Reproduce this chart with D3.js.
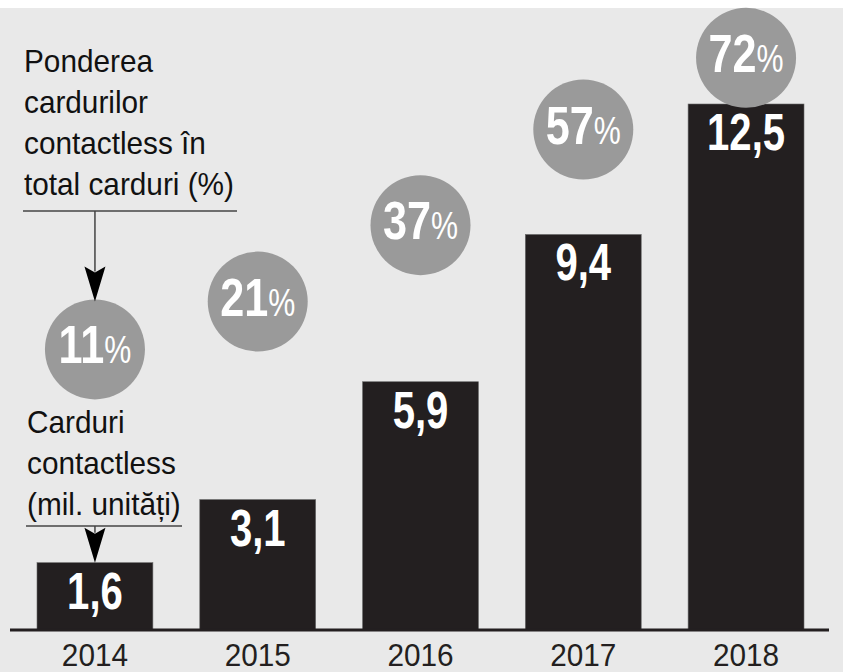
<!DOCTYPE html>
<html>
<head>
<meta charset="utf-8">
<script src="https://cdn.jsdelivr.net/npm/d3@7"></script>
<style>
  body { margin: 0; background: #fff; }
  svg { display: block; }
  text { font-family: "Liberation Sans", Arial, sans-serif; }
</style>
</head>
<body>
<div id="chart"></div>
<script>
// data
const years = ["2014", "2015", "2016", "2017", "2018"];
const cards = [1.6, 3.1, 5.9, 9.4, 12.5];          // mil. unitati
const shares = [11, 21, 37, 57, 72];               // % contactless in total
const barLabels = ["1,6", "3,1", "5,9", "9,4", "12,5"];

const width = 843, height = 672;
const baseY = 630;
const ink = "#231f20";
// no condensed font installed, so squeeze the glyphs horizontally
const sqReg = 0.93, sqBold = 0.77;

const svg = d3.select("#chart")
    .append("svg")
    .attr("width", width)
    .attr("height", height);

// background panel
svg.append("rect")
    .attr("x", 0).attr("y", 8)
    .attr("width", width).attr("height", height - 8)
    .attr("fill", "#e9e9e9");

const x = d3.scaleBand()
    .domain(years)
    .range([37, 804])
    .paddingInner(0.288)
    .paddingOuter(0);

const y = d3.scaleLinear()
    .domain([0, 12.5])
    .range([baseY, 104]);

// circle heights follow the share
const yPct = d3.scaleLinear()
    .domain([0, 100])
    .range([402, -76]);

const r = 50;
const cx = d => x(d) + x.bandwidth() / 2;

const data = years.map((yr, i) => ({ year: yr, value: cards[i], share: shares[i], label: barLabels[i] }));

// bars
svg.selectAll(".bar")
    .data(data)
    .enter()
    .append("rect")
    .attr("class", "bar")
    .attr("x", d => x(d.year))
    .attr("y", d => y(d.value))
    .attr("width", x.bandwidth())
    .attr("height", d => baseY - y(d.value))
    .attr("fill", ink)
    .attr("stroke", "#6a6a6a")
    .attr("stroke-width", 0.6);

// bar value labels
svg.selectAll(".barLabel")
    .data(data)
    .enter()
    .append("text")
    .attr("class", "barLabel")
    .attr("transform", d => `translate(${cx(d.year)},${y(d.value) + 46}) scale(${sqBold},1)`)
    .attr("text-anchor", "middle")
    .attr("fill", "#fff")
    .attr("font-weight", "bold")
    .attr("font-size", 52)
    .text(d => d.label);

// baseline
svg.append("line")
    .attr("x1", 10).attr("x2", 829)
    .attr("y1", baseY).attr("y2", baseY)
    .attr("stroke", ink)
    .attr("stroke-width", 3);

// year axis
const xAxis = d3.axisBottom(x).tickSize(0).tickPadding(0);
const gx = svg.append("g")
    .attr("transform", `translate(0,${baseY})`)
    .call(xAxis);
gx.select(".domain").remove();
gx.selectAll("text")
    .attr("dy", null)
    .attr("y", 0)
    .attr("transform", `translate(0,36) scale(${sqReg},1)`)
    .attr("fill", ink)
    .attr("font-size", 32)
    .style("font-family", "'Liberation Sans', Arial, sans-serif");

// share circles
const bubbles = svg.selectAll(".bubble")
    .data(data)
    .enter()
    .append("g")
    .attr("class", "bubble")
    .attr("transform", d => `translate(${cx(d.year)},${yPct(d.share)})`);

bubbles.append("circle")
    .attr("r", r)
    .attr("fill", "#9a9a9a");

const bubbleText = bubbles.append("text")
    .attr("text-anchor", "middle")
    .attr("transform", "translate(0,14) scale(0.8,1)")
    .attr("fill", "#fff");

bubbleText.append("tspan")
    .attr("font-weight", "bold")
    .attr("font-size", 54)
    .text(d => d.share);

bubbleText.append("tspan")
    .attr("font-size", 38)
    .text("%");

// annotations
const arrowHead = "M0,0 L-10.5,-35 L0,-29 L10.5,-35 Z";

function note(lines, left, firstBase, ruleY, ruleX2, tipX, tipY) {
    const t = svg.append("text")
        .attr("transform", `translate(${left},0) scale(${sqReg},1)`)
        .attr("fill", "#111")
        .attr("font-size", 32);
    lines.forEach((l, i) => {
        t.append("tspan")
            .attr("x", 0)
            .attr("y", firstBase + i * 41)
            .text(l);
    });
    svg.append("line")
        .attr("x1", left - 1).attr("x2", ruleX2)
        .attr("y1", ruleY).attr("y2", ruleY)
        .attr("stroke", "#444")
        .attr("stroke-width", 1.5);
    svg.append("line")
        .attr("x1", tipX).attr("x2", tipX)
        .attr("y1", ruleY).attr("y2", tipY - 30)
        .attr("stroke", "#444")
        .attr("stroke-width", 1.5);
    svg.append("path")
        .attr("d", arrowHead)
        .attr("transform", `translate(${tipX},${tipY})`)
        .attr("fill", "#000");
}

note(["Ponderea", "cardurilor", "contactless în", "total carduri (%)"],
    24, 72, 211, 237, cx(years[0]), yPct(shares[0]) - r + 2);

note(["Carduri", "contactless", "(mil. unități)"],
    27, 433, 526, 182, cx(years[0]), y(cards[0]));
</script>
</body>
</html>
